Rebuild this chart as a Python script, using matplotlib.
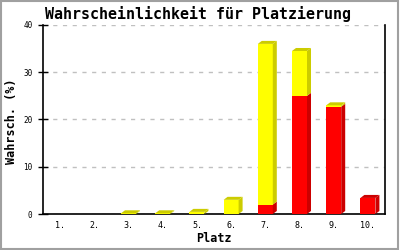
import matplotlib
matplotlib.use("Agg")
import matplotlib.pyplot as plt
from matplotlib.patches import Polygon, Rectangle

categories = ["1.", "2.", "3.", "4.", "5.", "6.", "7.", "8.", "9.", "10."]
red_vals = [0, 0, 0, 0, 0, 0, 2.0, 25.0, 22.7, 3.4]
yellow_vals = [0, 0, 0.15, 0.15, 0.45, 3.0, 34.0, 9.5, 0.3, 0]
yticks = [0, 10, 20, 30, 40]

title = "Wahrscheinlichkeit für Platzierung"
xlabel = "Platz"
ylabel = "Wahrsch. (%)"

RED, RED_D = "#FF0000", "#CC0000"
YEL, YEL_D = "#FFFF00", "#CCCC00"

fig = plt.figure(figsize=(4, 2.5), dpi=100)
fig.patch.set_facecolor("white")
ax = fig.add_axes([43/400, 36/250, 342/400, 189/250])
ax.set_xlim(0.5, 10.5)
ax.set_ylim(0, 40)

# pixel -> data conversion for 3D depth
px_x = 10.0 / 342
px_y = 40.0 / 189
dx, dy = 4 * px_x, 3 * px_y
w = 15 * px_x

for i, (r, y) in enumerate(zip(red_vals, yellow_vals)):
    xc = i + 1
    x0, x1 = xc - w/2, xc + w/2
    segs = []
    if r > 0:
        segs.append((0, r, RED, RED_D))
    if y > 0:
        segs.append((r, r + y, YEL, YEL_D))
    for (b, t, c, cd) in segs:
        ax.add_patch(Rectangle((x0, b), w, t - b, facecolor=c, edgecolor="none", zorder=3))
        ax.add_patch(Polygon([(x1, b), (x1 + dx, b + dy), (x1 + dx, t + dy), (x1, t)],
                             closed=True, facecolor=cd, edgecolor="none", zorder=3))
    if segs:
        t = segs[-1][1]
        cd = segs[-1][3]
        ax.add_patch(Polygon([(x0, t), (x1, t), (x1 + dx, t + dy), (x0 + dx, t + dy)],
                             closed=True, facecolor=cd, edgecolor="none", zorder=3))

ax.set_yticks(yticks)
ax.set_yticklabels([str(v) for v in yticks], fontsize=5.5, family="DejaVu Sans Mono")
ax.set_xticks(range(1, len(categories) + 1))
ax.set_xticklabels(categories, fontsize=6, family="DejaVu Sans Mono")
ax.tick_params(axis="x", length=0, pad=5)
ax.tick_params(axis="y", direction="inout", length=7, width=1, pad=4)
ax.yaxis.grid(True, linestyle=(0, (3, 4)), color="#C0C0C0", linewidth=1)
ax.set_axisbelow(True)
ax.spines["top"].set_visible(False)
for s in ["left", "right", "bottom"]:
    ax.spines[s].set_linewidth(1.2)
    ax.spines[s].set_color("black")

fig.text(214/400, 1 - 238/250, xlabel, fontsize=8.5, fontweight="bold",
         family="DejaVu Sans Mono", ha="center", va="center")
fig.text(12/400, 1 - 121/250, ylabel, rotation=90, fontsize=8.5, fontweight="bold",
         family="DejaVu Sans Mono", ha="center", va="center")
fig.text(198/400, 1 - 14/250, title, fontsize=10.8, fontweight="bold",
         family="DejaVu Sans Mono", ha="center", va="center")

fig.add_artist(Rectangle((0.002, 0.003), 0.994, 0.994, transform=fig.transFigure,
                         fill=False, edgecolor="#A0A0A0", linewidth=1.5))

fig.savefig("out.png", dpi=100)
